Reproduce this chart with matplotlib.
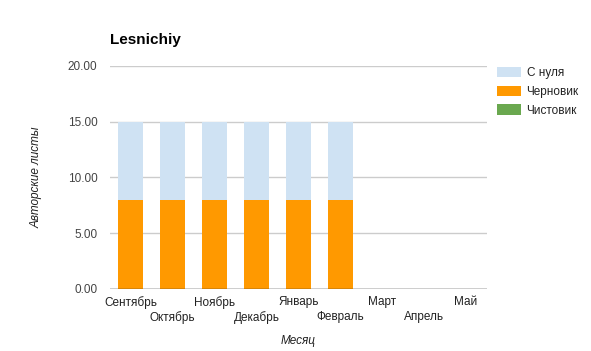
import matplotlib.pyplot as plt
import numpy as np

plt.rcParams['font.family'] = ['Liberation Sans', 'DejaVu Sans']

months = ['Сентябрь', 'Октябрь', 'Ноябрь', 'Декабрь', 'Январь',
          'Февраль', 'Март', 'Апрель', 'Май']
chernovik = [8, 8, 8, 8, 8, 8, 0, 0, 0]
s_nulya = [7, 7, 7, 7, 7, 7, 0, 0, 0]
chistovik = [0, 0, 0, 0, 0, 0, 0, 0, 0]
yticks = [0, 5, 10, 15, 20]

fig = plt.figure(figsize=(5.91, 3.51), dpi=100)
ax = fig.add_axes([0.186, 0.177, 0.638, 0.635])

x = np.arange(len(months))
w = 0.6
ax.bar(x, chernovik, w, color='#ff9900', label='Черновик', zorder=3)
ax.bar(x, s_nulya, w, bottom=chernovik, color='#cfe2f3', label='С нуля', zorder=3)
ax.bar(x, chistovik, w, bottom=np.add(chernovik, s_nulya), color='#6aa84f',
       label='Чистовик', zorder=3)

ax.set_xlim(-0.5, len(months) - 0.5)
ax.set_ylim(0, 20)
ax.set_yticks(yticks)
ax.set_yticklabels([f'{v:.2f}' for v in yticks])
ax.grid(axis='y', color='#cccccc', linewidth=1, zorder=0)
ax.axhline(0, color='#333333', linewidth=1, zorder=4)

ax.set_xticks(x)
ax.set_xticklabels(months)
ax.tick_params(length=0, labelsize=8.5, colors='#222222', pad=5)
ax.tick_params(axis='y', pad=9, labelcolor='#444444')
# staggered month labels, like the original
for i, t in enumerate(ax.xaxis.get_major_ticks()):
    if i % 2 == 1:
        t.set_pad(16)
for s in ax.spines.values():
    s.set_visible(False)

ax.set_xlabel('Месяц', style='italic', fontsize=8.5, color='#222222', labelpad=8)
ax.set_ylabel('Авторские листы', style='italic', fontsize=8.5, color='#222222',
              labelpad=18)

fig.text(0.186, 0.885, 'Lesnichiy', fontsize=11, fontweight='bold', va='center')

h, l = ax.get_legend_handles_labels()
order = [1, 0, 2]
fig.legend([h[i] for i in order], [l[i] for i in order], loc='upper left',
           bbox_to_anchor=(0.823, 0.84), frameon=False, fontsize=8.5,
           handlelength=2.0, handleheight=1.0, labelspacing=0.55,
           handletextpad=0.5, labelcolor='#222222')

fig.savefig('out.png', dpi=100)
